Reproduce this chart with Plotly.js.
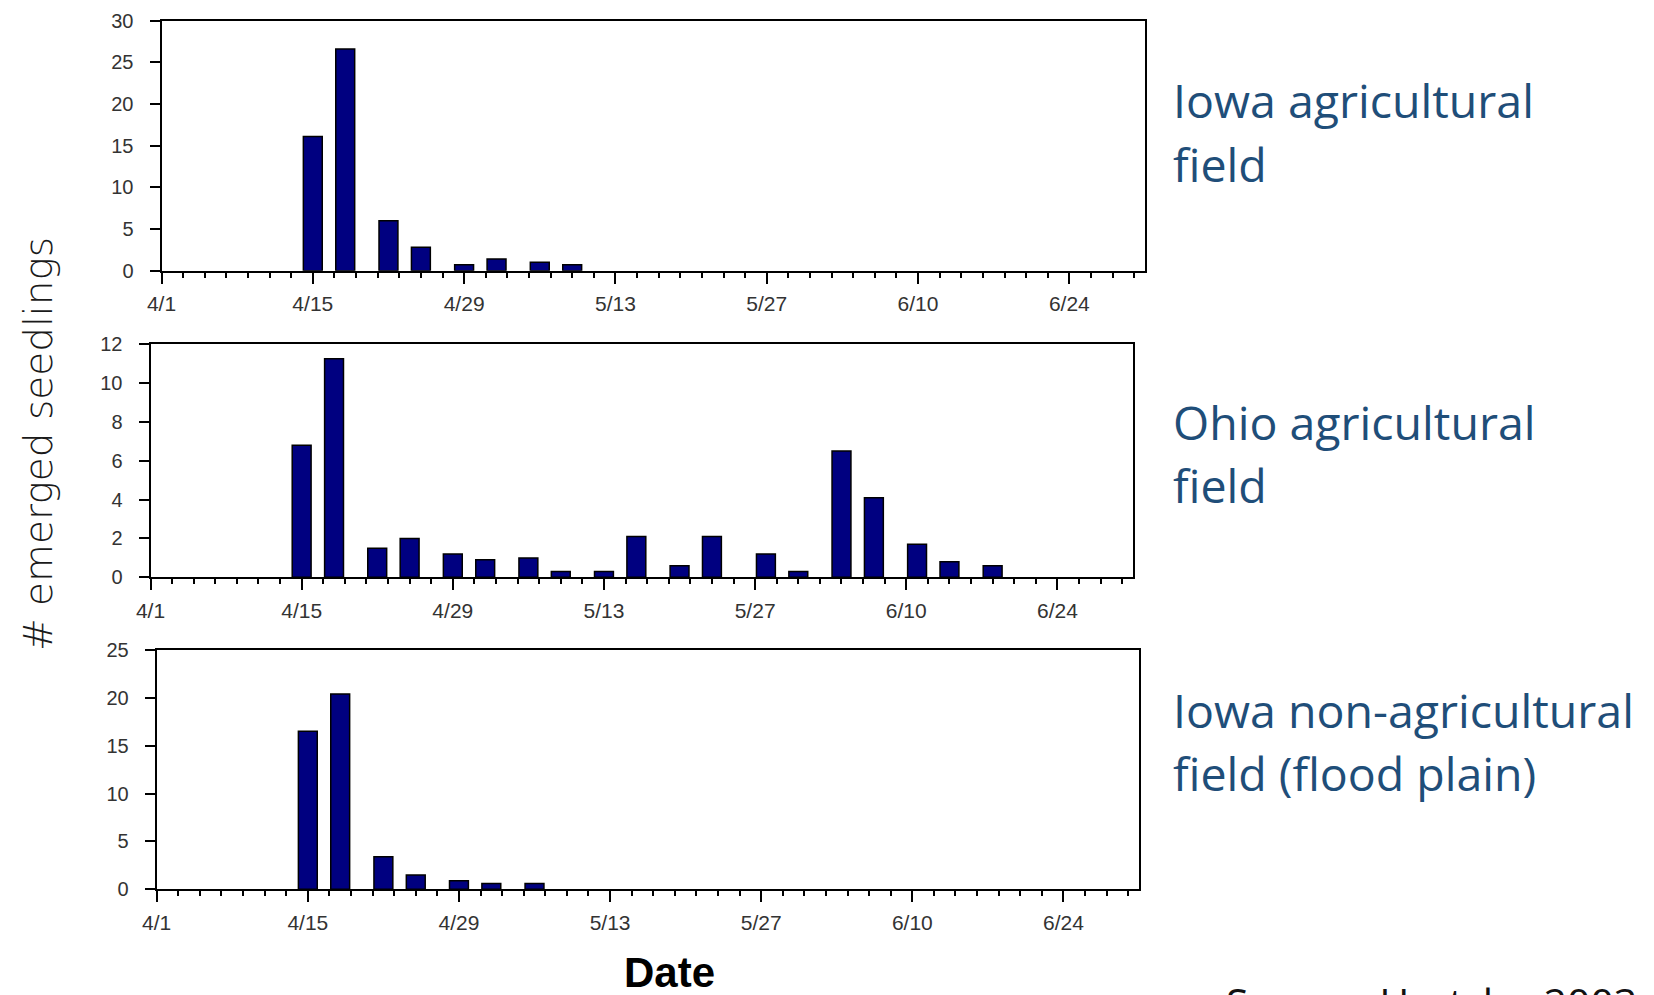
<!DOCTYPE html>
<html>
<head>
<meta charset="utf-8">
<script src="https://cdn.plot.ly/plotly-3.0.1.min.js"></script>
<style>
  html, body { margin: 0; padding: 0; background: #ffffff; }
  #chart { width: 1654px; height: 995px; }
</style>
</head>
<body>
<div id="chart"></div>
<script>
// ---- Data ----
const iowaAgDates = ['2003-04-15','2003-04-18','2003-04-22','2003-04-25','2003-04-29','2003-05-02','2003-05-06','2003-05-09'];
const iowaAgValues = [16.1, 26.6, 6.0, 2.8, 0.7, 1.4, 1.0, 0.7];

const ohioAgDates = ['2003-04-15','2003-04-18','2003-04-22','2003-04-25','2003-04-29','2003-05-02','2003-05-06','2003-05-09',
                     '2003-05-13','2003-05-16','2003-05-20','2003-05-23','2003-05-28','2003-05-31','2003-06-04','2003-06-07',
                     '2003-06-11','2003-06-14','2003-06-18'];
const ohioAgValues = [6.8, 11.25, 1.5, 2.0, 1.2, 0.9, 1.0, 0.3, 0.3, 2.1, 0.6, 2.1, 1.2, 0.3, 6.5, 4.1, 1.7, 0.8, 0.6];

const iowaFloodDates = ['2003-04-15','2003-04-18','2003-04-22','2003-04-25','2003-04-29','2003-05-02','2003-05-06'];
const iowaFloodValues = [16.5, 20.4, 3.4, 1.5, 0.9, 0.6, 0.6];

const panelLabels = [
  ['Iowa agricultural', 'field'],
  ['Ohio agricultural', 'field'],
  ['Iowa non-agricultural', 'field (flood plain)']
];
const yTitle = '# emerged seedlings';
const xTitle = 'Date';
const sourceText = 'Source: Hartzler 2003';
const dateRange = ['2003-04-01', '2003-07-01'];
const yRanges = [[0, 30], [0, 12], [0, 25]];
const yDticks = [5, 2, 5];

// ---- Layout helpers ----
const W = 1654, H = 995;
const px = v => v / W;
const py = v => 1 - v / H;
const DAY = 86400000;

const barWidth = 1.75 * DAY;
function barTrace(x, y, axisSuffix) {
  return {
    type: 'bar', x: x, y: y,
    xaxis: 'x' + axisSuffix, yaxis: 'y' + axisSuffix,
    width: x.map(() => barWidth),
    marker: { color: '#000080', line: { color: '#000000', width: 1.5 } },
    showlegend: false, hoverinfo: 'x+y'
  };
}

const yTickFont = { family: 'Liberation Sans, Arial, sans-serif', size: 20, color: '#333333' };
const xTickFont = { family: 'Liberation Sans, Arial, sans-serif', size: 21, color: '#333333' };

function xAxis(domain, anchor) {
  return {
    type: 'date', domain: domain, anchor: anchor, range: dateRange,
    tick0: '2003-04-01', dtick: 14 * DAY, tickformat: '%-m/%-d',
    ticks: 'outside', ticklen: 11, tickwidth: 2, tickcolor: '#000',
    minor: { tick0: '2003-04-01', dtick: 2 * DAY, ticks: 'outside', ticklen: 5, tickwidth: 2, tickcolor: '#000', showgrid: false },
    showline: true, linecolor: '#000', linewidth: 2, mirror: true,
    showgrid: false, zeroline: false, tickfont: xTickFont, ticklabelstandoff: 2,
    fixedrange: true
  };
}
function yAxis(domain, anchor, range, dtick) {
  return {
    domain: domain, anchor: anchor, range: range, dtick: dtick, tick0: 0,
    ticks: 'outside', ticklen: 10, tickwidth: 2, tickcolor: '#000',
    showline: true, linecolor: '#000', linewidth: 2, mirror: true,
    showgrid: false, zeroline: false, tickfont: yTickFont, ticklabelstandoff: 12,
    fixedrange: true
  };
}

const data = [
  barTrace(iowaAgDates, iowaAgValues, ''),
  barTrace(ohioAgDates, ohioAgValues, '2'),
  barTrace(iowaFloodDates, iowaFloodValues, '3')
];

const labelFont = { family: 'Open Sans, Lato, sans-serif', size: 46.5, color: '#1f4e79' };
const labelCenters = [[100, 163.5], [422, 485], [710, 773]];
const annotations = [];
panelLabels.forEach((lines, i) => {
  lines.forEach((t, j) => {
    annotations.push({
      text: t, xref: 'paper', yref: 'paper', x: px(1171), y: py(labelCenters[i][j]),
      xanchor: 'left', yanchor: 'middle', showarrow: false, font: labelFont
    });
  });
});
annotations.push({
  text: yTitle, xref: 'paper', yref: 'paper', x: px(38), y: py(444),
  xanchor: 'center', yanchor: 'middle', textangle: -90, showarrow: false,
  font: { family: 'DejaVu Sans, sans-serif', size: 39, color: '#1a1a1a', weight: 300 }
});
annotations.push({
  text: xTitle, xref: 'paper', yref: 'paper', x: px(669.5), y: py(972),
  xanchor: 'center', yanchor: 'middle', showarrow: false,
  font: { family: 'Liberation Sans, Arial, sans-serif', size: 42, color: '#000000', weight: 'bold' }
});
annotations.push({
  text: sourceText, xref: 'paper', yref: 'paper', x: px(1224), y: py(972),
  xanchor: 'left', yanchor: 'top', showarrow: false,
  font: { family: 'Open Sans, Lato, sans-serif', size: 41, color: '#111111' }
});

const layout = {
  width: W, height: H,
  margin: { l: 0, r: 0, t: 0, b: 0, pad: 0 },
  paper_bgcolor: '#ffffff', plot_bgcolor: '#ffffff',
  showlegend: false, bargap: 0,
  xaxis: xAxis([px(161.5), px(1145)], 'y'),
  yaxis: yAxis([py(270.7), py(20.7)], 'x', yRanges[0], yDticks[0]),
  xaxis2: xAxis([px(150.5), px(1133)], 'y2'),
  yaxis2: yAxis([py(577.3), py(344.3)], 'x2', yRanges[1], yDticks[1]),
  xaxis3: xAxis([px(156.7), px(1139)], 'y3'),
  yaxis3: yAxis([py(889.3), py(650)], 'x3', yRanges[2], yDticks[2]),
  annotations: annotations
};

Plotly.newPlot('chart', data, layout, { displayModeBar: false, staticPlot: true });
</script>
</body>
</html>
